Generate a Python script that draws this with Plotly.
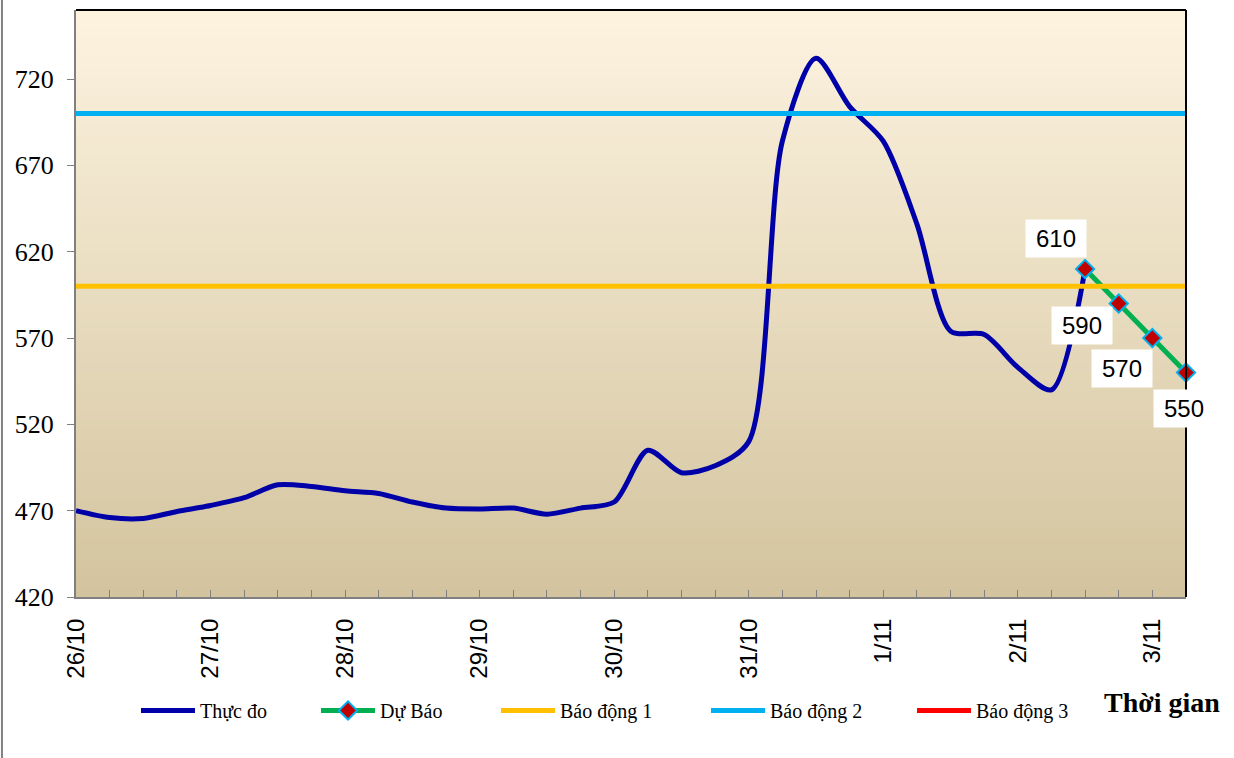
import plotly.graph_objects as go
import pandas as pd

# ---- data ----
observed = [470, 466, 465.5, 469.5, 473, 477.5, 485, 484, 481.5, 480,
            475, 471.5, 471, 471.5, 468, 471.5, 475, 505, 492, 496,
            510, 684, 732, 704, 684, 636, 574, 572, 553, 540, 610]
forecast = [610, 590, 570, 550]
alarm_1 = 600
alarm_2 = 700
alarm_3 = 800
n_points = len(observed) + len(forecast) - 1
times = pd.date_range("2020-10-26 00:00", periods=n_points, freq="6h")
obs_times = times[:len(observed)]
fc_times = times[len(observed) - 1:]

y_ticks = [420, 470, 520, 570, 620, 670, 720]

# label offsets (px) for forecast value labels
label_dx = [-29, -37, -30, -2]
label_dy = [30, -22, -30, -36]

# legend item left positions (px from left of page)
legend_px = [142, 322, 502, 712, 918]

serif = "Liberation Serif, Times New Roman, serif"
sans = "Liberation Sans, Arial, sans-serif"

L, R, T, B = 76, 48, 10, 161
W, H = 1234, 758
plot_w = W - L - R

fig = go.Figure()
fig.add_trace(go.Scatter(x=obs_times, y=observed, name="Thực đo", mode="lines", legend="legend",
                         line=dict(color="#0000A8", width=5, shape="spline", smoothing=0.8)))
fig.add_trace(go.Scatter(x=fc_times, y=forecast, name="Dự Báo", mode="lines+markers", legend="legend2",
                         line=dict(color="#00B050", width=5),
                         marker=dict(symbol="diamond", size=14, color="#C00000",
                                     line=dict(color="#00B0F0", width=2)),
                         cliponaxis=False))
fig.add_trace(go.Scatter(x=[times[0], times[-1]], y=[alarm_1, alarm_1], name="Báo động 1",
                         mode="lines", legend="legend3", line=dict(color="#FFC000", width=5)))
fig.add_trace(go.Scatter(x=[times[0], times[-1]], y=[alarm_2, alarm_2], name="Báo động 2",
                         mode="lines", legend="legend4", line=dict(color="#00B0F0", width=5)))
fig.add_trace(go.Scatter(x=[times[0], times[-1]], y=[alarm_3, alarm_3], name="Báo động 3",
                         mode="lines", legend="legend5", line=dict(color="#FF0000", width=5)))

# forecast value labels
for t, v, dx, dy in zip(fc_times, forecast, label_dx, label_dy):
    fig.add_annotation(x=t, y=v, xref="x", yref="y", text=f"{v:g}", showarrow=False,
                       xshift=dx, yshift=dy, bgcolor="white", borderpad=5, width=50,
                       font=dict(family=sans, size=24, color="black"))

fig.add_annotation(x=1.032, y=-0.18, xref="paper", yref="paper", xanchor="right",
                   yanchor="middle", text="<b>Thời gian</b>", showarrow=False,
                   font=dict(family=serif, size=28, color="black"))

# gradient background of plot area
shapes = []
top = (253, 243, 224)
bot = (211, 196, 158)
n = 60
for i in range(n):
    f = (i + 0.5) / n
    c = tuple(round(top[k] + (bot[k] - top[k]) * f) for k in range(3))
    shapes.append(dict(type="rect", xref="x domain", yref="y domain",
                       x0=0, x1=1, y0=1 - (i + 1) / n, y1=1 - i / n + 0.001,
                       fillcolor=f"rgb{c}", line=dict(width=0), layer="below"))
# top & right plot border
shapes.append(dict(type="line", xref="x domain", yref="y domain", x0=0, x1=1, y0=1, y1=1,
                   line=dict(color="black", width=2)))
shapes.append(dict(type="line", xref="x domain", yref="y domain", x0=1, x1=1, y0=0, y1=1,
                   line=dict(color="black", width=2)))
# outer frame left edge
shapes.append(dict(type="line", xref="paper", yref="paper", x0=-0.0667, x1=-0.0667,
                   y0=-0.28, y1=1.02, line=dict(color="#808080", width=2)))

legends = {}
for k, px in enumerate(legend_px):
    key = "legend" if k == 0 else f"legend{k + 1}"
    legends[key] = dict(orientation="h", x=(px - 6 - L) / plot_w, y=-0.16,
                        xanchor="left", yanchor="top", itemwidth=54,
                        font=dict(family=serif, size=20, color="black"),
                        bgcolor="rgba(0,0,0,0)")

fig.update_layout(
    width=W, height=H,
    margin=dict(l=L, r=R, t=T, b=B),
    paper_bgcolor="white", plot_bgcolor="#EFE6CC",
    shapes=shapes,
    showlegend=True,
    xaxis=dict(range=[times[0], times[-1]], type="date", dtick=86400000,
               tickformat="%-d/%m", tickangle=-90, ticks="inside", ticklen=7,
               tickcolor="#808080", showline=True, linecolor="#808080", linewidth=2,
               showgrid=False, zeroline=False, ticklabelstandoff=10,
               tickfont=dict(family=sans, size=24, color="black"),
               minor=dict(dtick=6 * 3600000, ticks="inside", ticklen=7, tickcolor="#808080",
                          showgrid=False)),
    yaxis=dict(range=[420, 760], tickvals=y_ticks, ticks="outside", ticklen=7,
               tickcolor="#808080", showline=True, linecolor="#808080", linewidth=2,
               showgrid=False, zeroline=False, ticklabelstandoff=8,
               tickfont=dict(family=serif, size=26, color="black")),
    **legends,
)

fig.write_html("out.html", config={"displayModeBar": False},
               post_script="document.body.style.margin='0px';")
